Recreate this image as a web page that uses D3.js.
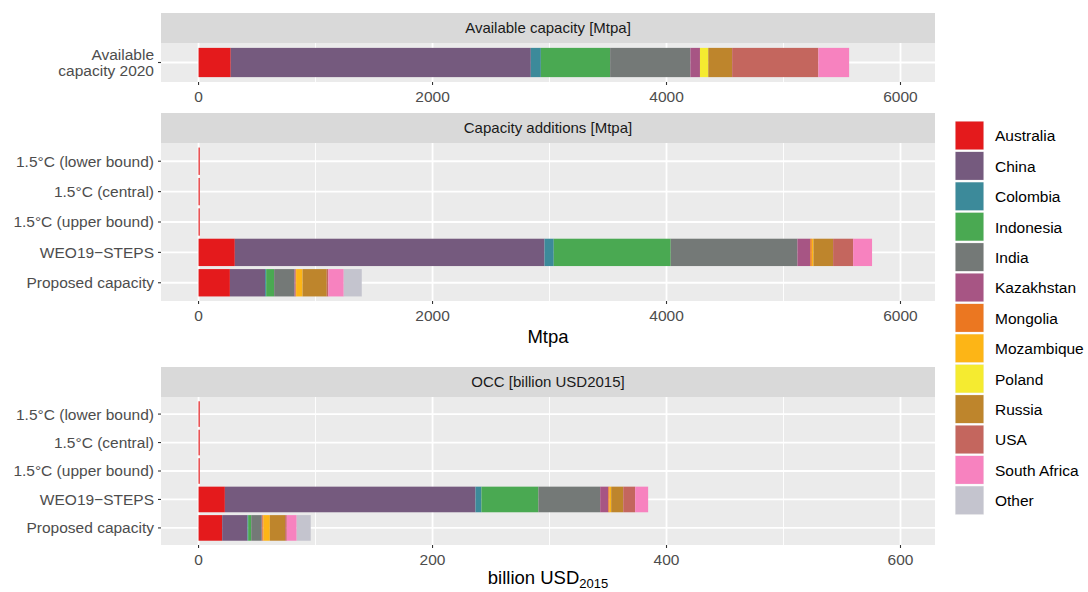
<!DOCTYPE html>
<html>
<head>
<meta charset="utf-8">
<script src="https://cdn.jsdelivr.net/npm/d3@7"></script>
<style>
  body { margin: 0; background: #fff; }
  svg { display: block; font-family: "Liberation Sans", Arial, sans-serif; }
</style>
</head>
<body>
<svg id="chart" width="1088" height="592"></svg>
<script>
// Stack order of the countries (left to right) and their fill colours
const countries = ["Australia", "China", "Colombia", "Indonesia", "India", "Kazakhstan",
  "Mongolia", "Mozambique", "Poland", "Russia", "USA", "South Africa", "Other"];
const countryColors = ["#E41A1C", "#755A7E", "#3C8A9A", "#4AA952", "#747977", "#A75584",
  "#EB7721", "#FDB516", "#F5EB30", "#BE852C", "#C4665E", "#F782BF", "#C4C4CE"];

// Row labels
const availableRows = ["Available capacity 2020"];
const scenarioRows = ["1.5°C (lower bound)", "1.5°C (central)", "1.5°C (upper bound)",
  "WEO19\u2212STEPS", "Proposed capacity"];

// Available capacity in 2020 [Mtpa], one value per country
const available2020 = [275, 2565, 86, 592, 686, 82, 0, 0, 71, 204, 737, 263, 0];

// Capacity additions [Mtpa], one array per scenario row
const addLower   = [10, 0, 0, 0, 0, 0, 0, 0, 0, 0, 0, 0, 0];
const addCentral = [10, 0, 0, 0, 0, 0, 0, 0, 0, 0, 0, 0, 0];
const addUpper   = [10, 0, 0, 0, 0, 0, 0, 0, 0, 0, 0, 0, 0];
const addSteps   = [310, 2647, 79, 1000, 1083, 109, 14, 14, 0, 168, 171, 162, 0];
const addProposed = [268, 301, 9, 68, 174, 9, 5, 55, 0, 207, 14, 131, 154];

// Overnight capital cost [billion USD2015], one array per scenario row
const occLower   = [1.0, 0, 0, 0, 0, 0, 0, 0, 0, 0, 0, 0, 0];
const occCentral = [1.0, 0, 0, 0, 0, 0, 0, 0, 0, 0, 0, 0, 0];
const occUpper   = [1.0, 0, 0, 0, 0, 0, 0, 0, 0, 0, 0, 0, 0];
const occSteps   = [22.5, 214.2, 5.1, 48.7, 52.8, 6.9, 1.1, 1.4, 0, 10.3, 10.2, 11.1, 0];
const occProposed = [20.2, 21.6, 0.6, 2.6, 9.0, 0.5, 1.0, 5.4, 0, 13.1, 1.4, 8.5, 12.0];

// Axis ticks
const mtpaTicks = [0, 2000, 4000, 6000];
const mtpaMinor = [1000, 3000, 5000];
const occTicks = [0, 200, 400, 600];
const occMinor = [100, 300, 500];

const FS = 15.5;       // tick and legend text
const STRIP_FS = 15;   // facet strip text
const TITLE_FS = 18.5; // axis titles

const svg = d3.select("#chart");
const color = d3.scaleOrdinal().domain(countries).range(countryColors);

const panelLeft = 161, panelRight = 935;
const xMtpa = d3.scaleLinear().domain([-321, 6295]).range([panelLeft, panelRight]);
const xOcc = d3.scaleLinear().domain([-32.1, 629.5]).range([panelLeft, panelRight]);

function toRecords(rows, arrays) {
  return rows.map((r, i) => {
    const o = { row: r };
    countries.forEach((c, j) => o[c] = arrays[i][j]);
    return o;
  });
}

function drawPanel(cfg) {
  const { title, rows, data, x, ticks, minor, stripTop, stripH, panelTop, panelBottom } = cfg;
  const g = svg.append("g");

  // strip
  g.append("rect").attr("x", panelLeft).attr("y", stripTop)
    .attr("width", panelRight - panelLeft).attr("height", stripH).attr("fill", "#D9D9D9");
  g.append("text").attr("x", (panelLeft + panelRight) / 2).attr("y", stripTop + stripH / 2)
    .attr("dy", "0.35em").attr("text-anchor", "middle").attr("font-size", STRIP_FS)
    .attr("fill", "#1A1A1A").text(title);

  // panel background
  g.append("rect").attr("x", panelLeft).attr("y", panelTop)
    .attr("width", panelRight - panelLeft).attr("height", panelBottom - panelTop)
    .attr("fill", "#EBEBEB");

  const y = d3.scalePoint().domain(rows).range([panelTop, panelBottom]).padding(0.6);
  const bandH = (rows.length > 1 ? y.step() : (panelBottom - panelTop) / 1.2) * 0.9;

  // grid
  g.selectAll(".minor").data(minor).join("line")
    .attr("x1", d => x(d)).attr("x2", d => x(d))
    .attr("y1", panelTop).attr("y2", panelBottom)
    .attr("stroke", "#fff").attr("stroke-width", 0.9);
  g.selectAll(".major").data(ticks).join("line")
    .attr("x1", d => x(d)).attr("x2", d => x(d))
    .attr("y1", panelTop).attr("y2", panelBottom)
    .attr("stroke", "#fff").attr("stroke-width", 1.8);
  g.selectAll(".hmajor").data(rows).join("line")
    .attr("x1", panelLeft).attr("x2", panelRight)
    .attr("y1", d => y(d)).attr("y2", d => y(d))
    .attr("stroke", "#fff").attr("stroke-width", 1.8);

  // stacked bars
  const series = d3.stack().keys(countries)(data);
  g.selectAll(".series").data(series).join("g")
    .attr("fill", d => color(d.key))
    .selectAll("rect").data(d => d.filter(s => s[1] - s[0] > 0)).join("rect")
    .attr("x", d => x(d[0]))
    .attr("width", d => x(d[1]) - x(d[0]))
    .attr("y", d => y(d.data.row) - bandH / 2)
    .attr("height", bandH);

  // x axis
  const xa = g.append("g").attr("transform", `translate(0,${panelBottom})`);
  xa.selectAll("line").data(ticks).join("line")
    .attr("x1", d => x(d)).attr("x2", d => x(d)).attr("y1", 0).attr("y2", 3)
    .attr("stroke", "#333").attr("stroke-width", 1.1);
  xa.selectAll("text").data(ticks).join("text")
    .attr("x", d => x(d)).attr("y", 15).attr("dy", "0.35em")
    .attr("text-anchor", "middle").attr("font-size", FS).attr("fill", "#4D4D4D")
    .text(d => d);

  // y axis
  const ya = g.append("g");
  ya.selectAll("line").data(rows).join("line")
    .attr("x1", panelLeft - 3).attr("x2", panelLeft)
    .attr("y1", d => y(d)).attr("y2", d => y(d))
    .attr("stroke", "#333").attr("stroke-width", 1.1);
  ya.selectAll("text").data(rows).join("text")
    .attr("x", panelLeft - 7).attr("y", d => y(d))
    .attr("text-anchor", "end").attr("font-size", FS).attr("fill", "#4D4D4D")
    .each(function (d) {
      const t = d3.select(this);
      const lines = cfg.wrap && cfg.wrap[d] ? cfg.wrap[d] : [d];
      lines.forEach((ln, i) => {
        t.append("tspan").attr("x", panelLeft - 7)
          .attr("dy", i === 0 ? `${0.35 - (lines.length - 1) * 0.52}em` : "1.04em")
          .text(ln);
      });
    });
  return g;
}

drawPanel({
  title: "Available capacity [Mtpa]", rows: availableRows,
  data: toRecords(availableRows, [available2020]),
  x: xMtpa, ticks: mtpaTicks, minor: mtpaMinor,
  stripTop: 13, stripH: 30, panelTop: 43, panelBottom: 82,
  wrap: { "Available capacity 2020": ["Available", "capacity 2020"] }
});

drawPanel({
  title: "Capacity additions [Mtpa]", rows: scenarioRows,
  data: toRecords(scenarioRows, [addLower, addCentral, addUpper, addSteps, addProposed]),
  x: xMtpa, ticks: mtpaTicks, minor: mtpaMinor,
  stripTop: 113, stripH: 30, panelTop: 143, panelBottom: 301
});

drawPanel({
  title: "OCC [billion USD2015]", rows: scenarioRows,
  data: toRecords(scenarioRows, [occLower, occCentral, occUpper, occSteps, occProposed]),
  x: xOcc, ticks: occTicks, minor: occMinor,
  stripTop: 367, stripH: 30, panelTop: 397, panelBottom: 545
});

// axis titles
svg.append("text").attr("x", (panelLeft + panelRight) / 2).attr("y", 337).attr("dy", "0.35em")
  .attr("text-anchor", "middle").attr("font-size", TITLE_FS).attr("fill", "#000").text("Mtpa");
const occTitle = svg.append("text").attr("x", (panelLeft + panelRight) / 2).attr("y", 578)
  .attr("dy", "0.35em").attr("text-anchor", "middle").attr("font-size", TITLE_FS).attr("fill", "#000");
occTitle.append("tspan").text("billion USD");
occTitle.append("tspan").attr("font-size", 13).attr("dy", "0.3em").text("2015");

// legend
const legend = svg.append("g").attr("transform", "translate(955,121)");
const items = legend.selectAll("g").data(countries).join("g")
  .attr("transform", (d, i) => `translate(0,${i * 30.4})`);
items.append("rect").attr("width", 29).attr("height", 29).attr("fill", "#F2F2F2");
items.append("rect").attr("x", 0.5).attr("y", 0.5).attr("width", 28).attr("height", 28)
  .attr("fill", d => color(d));
items.append("text").attr("x", 40).attr("y", 15).attr("dy", "0.35em")
  .attr("font-size", FS).attr("fill", "#000").text(d => d);
</script>
</body>
</html>
